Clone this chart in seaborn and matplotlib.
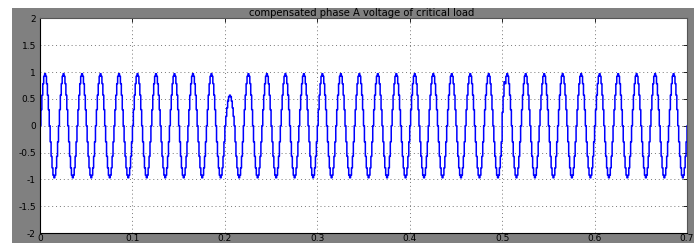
import numpy as np
import pandas as pd
import matplotlib
matplotlib.use("Agg")
import matplotlib.pyplot as plt
import seaborn as sns
from matplotlib.patches import Rectangle

# ---- data ----
title = "compensated phase A voltage of critical load"
freq_hz = 50.0                      # 5 cycles per 0.1 s
t_end = 0.7
sample_step = 0.001                 # staircase sampling of the simulation output
# peak of each half cycle (70 half cycles over 0.7 s); sag in the half cycle after t=0.2
half_cycle_peaks = [0.97] * 20 + [0.57] + [0.97] * 49
# short glitch right after t=0.5
glitch_start = [0.500]
glitch_end = [0.5025]
glitch_offset = [0.25]
x_ticks = [0, 0.1, 0.2, 0.3, 0.4, 0.5, 0.6, 0.7]
x_tick_labels = ["0", "0.1", "0.2", "0.3", "0.4", "0.5", "0.6", "0.7"]
y_ticks = [-2, -1.5, -1, -0.5, 0, 0.5, 1, 1.5, 2]
y_tick_labels = ["-2", "-1.5", "-1", "-0.5", "0", "0.5", "1", "1.5", "2"]

# ---- build the waveform ----
t = np.arange(0, t_end + sample_step / 2, sample_step)
half_idx = np.minimum((t * 2 * freq_hz).astype(int), len(half_cycle_peaks) - 1)
amp = np.array(half_cycle_peaks)[half_idx]
v = amp * np.sin(2 * np.pi * freq_hz * t)
for s, e, o in zip(glitch_start, glitch_end, glitch_offset):
    v = v + np.where((t >= s) & (t < e), o, 0.0)
df = pd.DataFrame({"t": t, "v": v})

# ---- figure ----
sns.set_style("white")
plt.rcParams["font.family"] = ["DejaVu Sans"]
fig = plt.figure(figsize=(6.94, 2.43), dpi=100)
fig.patch.set_facecolor("white")
W, H = 694, 243
fig.patches.append(Rectangle((12 / W, 0), 1 - 12 / W, (H - 8) / H,
                             transform=fig.transFigure, facecolor="#808080",
                             edgecolor="none", zorder=-10))

ax = fig.add_axes([40 / W, (H - 233) / H, 647 / W, 214.5 / H])
ax.set_zorder(5)
ax.set_facecolor("white")
sns.lineplot(data=df, x="t", y="v", ax=ax, color="#0000ff", linewidth=1.1,
             estimator=None, sort=False, drawstyle="steps-post")

ax.set_xlim(0, 0.7)
ax.set_ylim(-2, 2)
ax.set_xticks(x_ticks)
ax.set_xticklabels(x_tick_labels)
ax.set_yticks(y_ticks)
ax.set_yticklabels(y_tick_labels)
ax.set_xlabel("")
ax.set_ylabel("")
ax.grid(True, linestyle=(0, (1, 3)), color="#777777", linewidth=0.7)
ax.tick_params(direction="in", length=3, width=0.6, labelsize=6.5,
               colors="black", top=True, right=True)
ax.tick_params(axis="x", pad=0.5)
ax.tick_params(axis="y", pad=3)
for side in ["left", "bottom"]:
    ax.spines[side].set_color("black")
    ax.spines[side].set_linewidth(0.8)
for side in ["top", "right"]:
    ax.spines[side].set_color("#555555")
    ax.spines[side].set_linewidth(0.8)

fig.text(362 / W, 1 - 12.5 / H, title, ha="center", va="center",
         fontsize=7.2, color="black")

fig.savefig("out.png", dpi=100, facecolor="white")
